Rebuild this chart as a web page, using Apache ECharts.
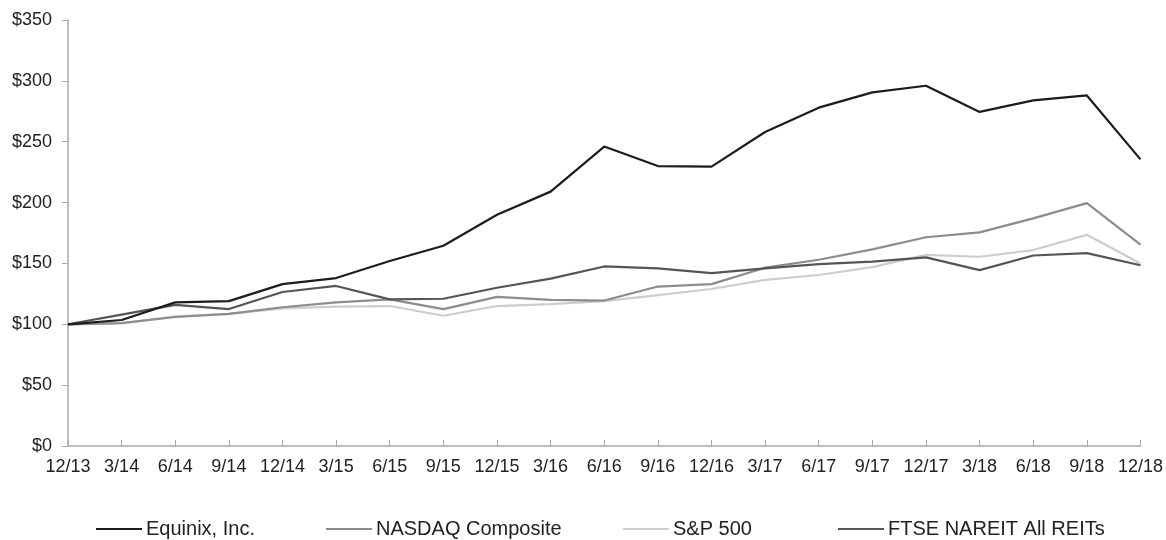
<!DOCTYPE html>
<html>
<head>
<meta charset="utf-8">
<script src="https://cdn.jsdelivr.net/npm/echarts@6/dist/echarts.min.js"></script>
<style>html,body{margin:0;padding:0;background:#fff}#c{width:1166px;height:540px}</style>
</head>
<body>
<div id="c"></div>
<script>
const categories = ['12/13','3/14','6/14','9/14','12/14','3/15','6/15','9/15','12/15','3/16','6/16','9/16','12/16','3/17','6/17','9/17','12/17','3/18','6/18','9/18','12/18'];
const equinix = [100,103.5,118,119,133,138,152,164.5,190,209,246,230,229.5,258,278,290.5,296,274.5,284,288,235.5];
const nasdaq  = [100,101,106,108.5,114,118,120.5,112.5,122.5,120,119.5,131,133,146.5,153,161.5,171.5,175.5,187,199.5,165.5];
const sp500   = [100,101,106.5,108.5,113,114.5,115,107,115,116.5,119,124,129,136.5,140.5,147,157,155.5,161,173.5,150];
const ftse    = [100,108,116,112.5,126.5,131.5,120.5,121,130,137.5,147.5,146,142,146,149.5,151.5,155,144.5,156.5,158.5,148.5];
const yTicks = [0,50,100,150,200,250,300,350];
const names = ['Equinix, Inc.','NASDAQ Composite','S&P 500','FTSE NAREIT All REITs'];
const colors = ['#1c1c1c','#8c8c8c','#cdcdcd','#555555'];
const legendLeft = [96, 326, 623, 838];

const chart = echarts.init(document.getElementById('c'));
const font = 'Liberation Sans, Arial, sans-serif';
const mk = (i, data, z) => ({
  name: names[i], type: 'line', data: data, showSymbol: false, symbol: 'none',
  z: z, lineStyle: {color: colors[i], width: 2.2}, itemStyle: {color: colors[i]}
});
chart.setOption({
  animation: false,
  grid: {left: 68, right: 23, top: 20, bottom: 94},
  legend: names.map((n, i) => ({
    data: [n], left: legendLeft[i], top: 519, itemWidth: 46, itemHeight: 12, itemGap: 0,
    icon: 'path://M0,5 L46,5 L46,7 L0,7 Z',
    textStyle: {fontFamily: font, fontSize: 20, color: '#222', padding: [0,0,0,-1]},
    padding: 0
  })),
  xAxis: {
    type: 'category', data: categories, boundaryGap: false,
    axisLine: {lineStyle: {color: '#a8a8a8', width: 1.5}},
    axisTick: {inside: true, length: 6, lineStyle: {color: '#a8a8a8', width: 1}},
    axisLabel: {fontFamily: font, fontSize: 18, color: '#222', margin: 12, interval: 0}
  },
  yAxis: {
    type: 'value', min: 0, max: 350, interval: 50,
    axisLine: {show: true, lineStyle: {color: '#a8a8a8', width: 1.5}},
    axisTick: {show: true, length: 6, lineStyle: {color: '#a8a8a8'}},
    splitLine: {show: false},
    axisLabel: {fontFamily: font, fontSize: 18, color: '#222', margin: 16,
      formatter: v => yTicks.includes(v) ? '$' + v : ''}
  },
  series: [mk(2, sp500, 2), mk(1, nasdaq, 3), mk(3, ftse, 4), mk(0, equinix, 5)]
});
</script>
</body>
</html>
